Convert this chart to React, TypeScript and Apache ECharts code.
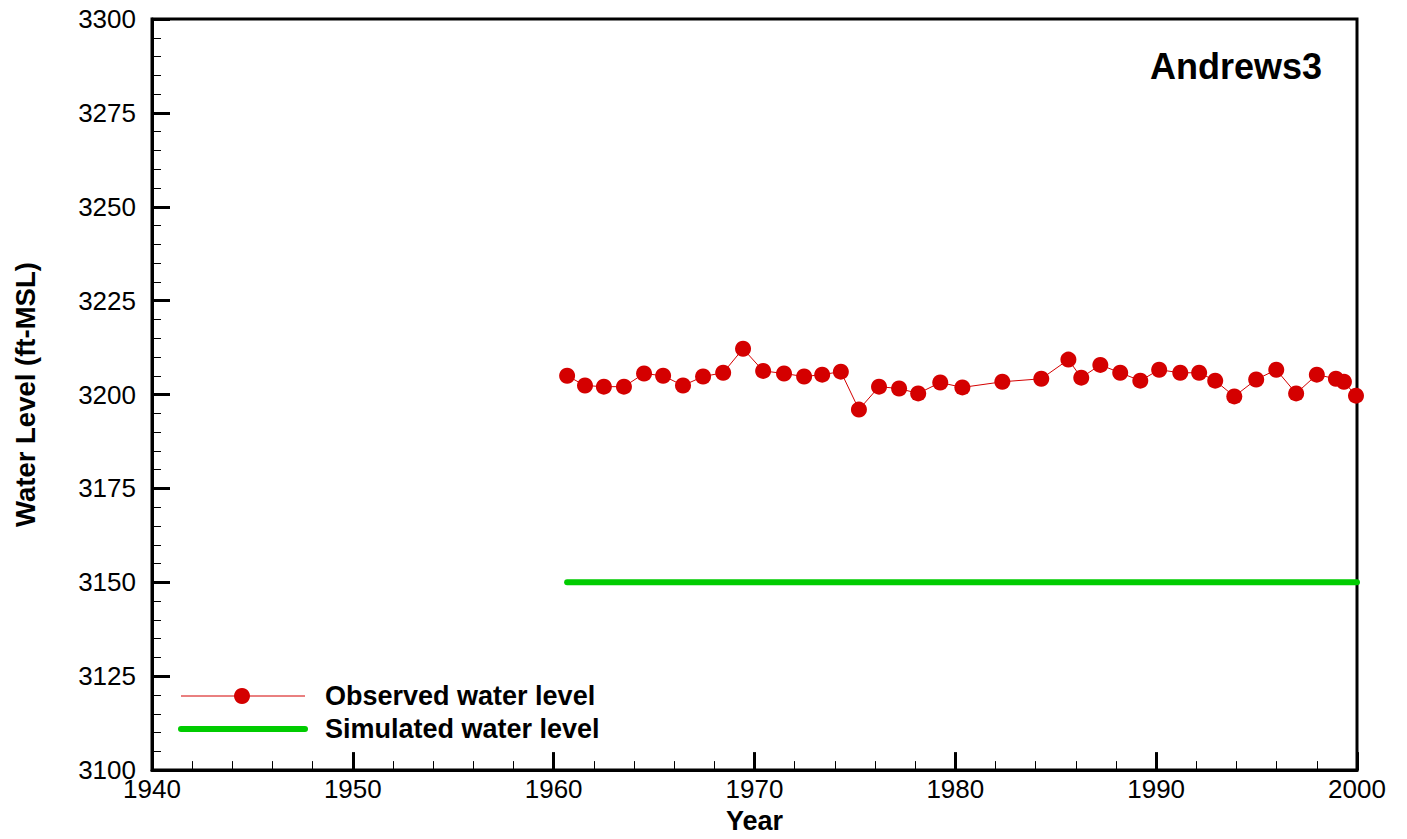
import React, { useEffect, useRef } from "react";
import * as echarts from "echarts";

const obsYears = [
  1960.67, 1961.56, 1962.5, 1963.5, 1964.5, 1965.45, 1966.44, 1967.44, 1968.44, 1969.43,
  1970.43, 1971.47, 1972.47, 1973.37, 1974.3, 1975.2, 1976.2, 1977.2, 1978.15, 1979.25,
  1980.35, 1982.34, 1984.28, 1985.63, 1986.27, 1987.22, 1988.21, 1989.21, 1990.15, 1991.2,
  1992.14, 1992.94, 1993.89, 1994.98, 1995.98, 1996.97, 1998.0, 1998.95, 1999.35, 1999.95,
];
const obsLevels = [
  3205.0, 3202.4, 3202.1, 3202.1, 3205.6, 3205.0, 3202.4, 3204.8, 3205.8, 3212.2,
  3206.3, 3205.6, 3204.8, 3205.3, 3206.1, 3196.0, 3202.1, 3201.6, 3200.3, 3203.2,
  3201.9, 3203.4, 3204.2, 3209.3, 3204.5, 3207.9, 3205.8, 3203.7, 3206.6, 3205.8,
  3205.8, 3203.7, 3199.5, 3204.0, 3206.6, 3200.3, 3205.3, 3204.2, 3203.4, 3199.7,
];
const simYears = [1960.67, 2000];
const simLevels = [3150, 3150];

const seriesNames = ["Observed water level", "Simulated water level"];
const wellName = "Andrews3";
const xTitle = "Year";
const yTitle = "Water Level (ft-MSL)";

const RED = "#d40000";
const GREEN = "#00cc00";
const FONT = "Liberation Sans, Arial, sans-serif";

export default function App() {
  const ref = useRef<HTMLDivElement>(null);
  useEffect(() => {
    if (!ref.current) return;
    const chart = echarts.init(ref.current, null, { renderer: "svg" });
    chart.setOption({
      animation: false,
      backgroundColor: "#fff",
      textStyle: { fontFamily: FONT },
      grid: {
        left: 152, top: 19, right: 50, bottom: 64,
        show: true, borderColor: "#000", borderWidth: 3, backgroundColor: "transparent",
      },
      title: {
        text: wellName,
        right: 85,
        top: 48,
        padding: 0,
        textStyle: { fontFamily: FONT, fontSize: 36, fontWeight: "bold", color: "#000" },
      },
      xAxis: {
        type: "value",
        min: 1940, max: 2000, interval: 10,
        name: xTitle,
        nameLocation: "middle",
        nameGap: 33,
        nameTextStyle: { fontFamily: FONT, fontSize: 27, fontWeight: "bold", color: "#000" },
        axisLine: { show: true, lineStyle: { color: "#000", width: 3 } },
        axisTick: { show: true, inside: true, length: 18, lineStyle: { color: "#000", width: 3 } },
        minorTick: { show: true, splitNumber: 5, length: 9, lineStyle: { color: "#000", width: 1 } },
        splitLine: { show: false },
        axisLabel: { color: "#000", fontSize: 26, fontFamily: FONT, margin: 6, formatter: (v: number) => String(v) },
      },
      yAxis: {
        type: "value",
        min: 3100, max: 3300, interval: 25,
        name: yTitle,
        nameLocation: "middle",
        nameGap: 113,
        nameTextStyle: { fontFamily: FONT, fontSize: 27.5, fontWeight: "bold", color: "#000" },
        axisLine: { show: true, lineStyle: { color: "#000", width: 3 } },
        axisTick: { show: true, inside: true, length: 18, lineStyle: { color: "#000", width: 3 } },
        minorTick: { show: true, splitNumber: 5, length: 9, lineStyle: { color: "#000", width: 1 } },
        splitLine: { show: false },
        axisLabel: { color: "#000", fontSize: 26, fontFamily: FONT, margin: 16, formatter: (v: number) => String(v) },
      },
      series: [
        {
          name: seriesNames[1],
          type: "line",
          data: simYears.map((y, i) => [y, simLevels[i]]),
          showSymbol: false,
          lineStyle: { color: GREEN, width: 6, cap: "round" },
          itemStyle: { color: GREEN },
          z: 2,
        },
        {
          name: seriesNames[0],
          type: "line",
          data: obsYears.map((y, i) => [y, obsLevels[i]]),
          symbol: "circle",
          symbolSize: 16,
          lineStyle: { color: RED, width: 1 },
          itemStyle: { color: RED },
          z: 3,
        },
      ],
      graphic: [
        { type: "line", shape: { x1: 181, y1: 696, x2: 305, y2: 696 }, style: { stroke: RED, lineWidth: 1 } },
        { type: "circle", shape: { cx: 242, cy: 696, r: 8 }, style: { fill: RED } },
        {
          type: "text", x: 325, y: 696,
          style: { text: seriesNames[0], font: `bold 27px ${FONT}`, fill: "#000", verticalAlign: "middle" },
        },
        { type: "line", shape: { x1: 181, y1: 729, x2: 305, y2: 729 }, style: { stroke: GREEN, lineWidth: 6, lineCap: "round" } },
        {
          type: "text", x: 325, y: 729,
          style: { text: seriesNames[1], font: `bold 27px ${FONT}`, fill: "#000", verticalAlign: "middle" },
        },
      ],
    });
    return () => chart.dispose();
  }, []);
  return (
    <div
      ref={ref}
      style={{ position: "absolute", left: 0, top: 0, width: 1407, height: 839 }}
    />
  );
}
